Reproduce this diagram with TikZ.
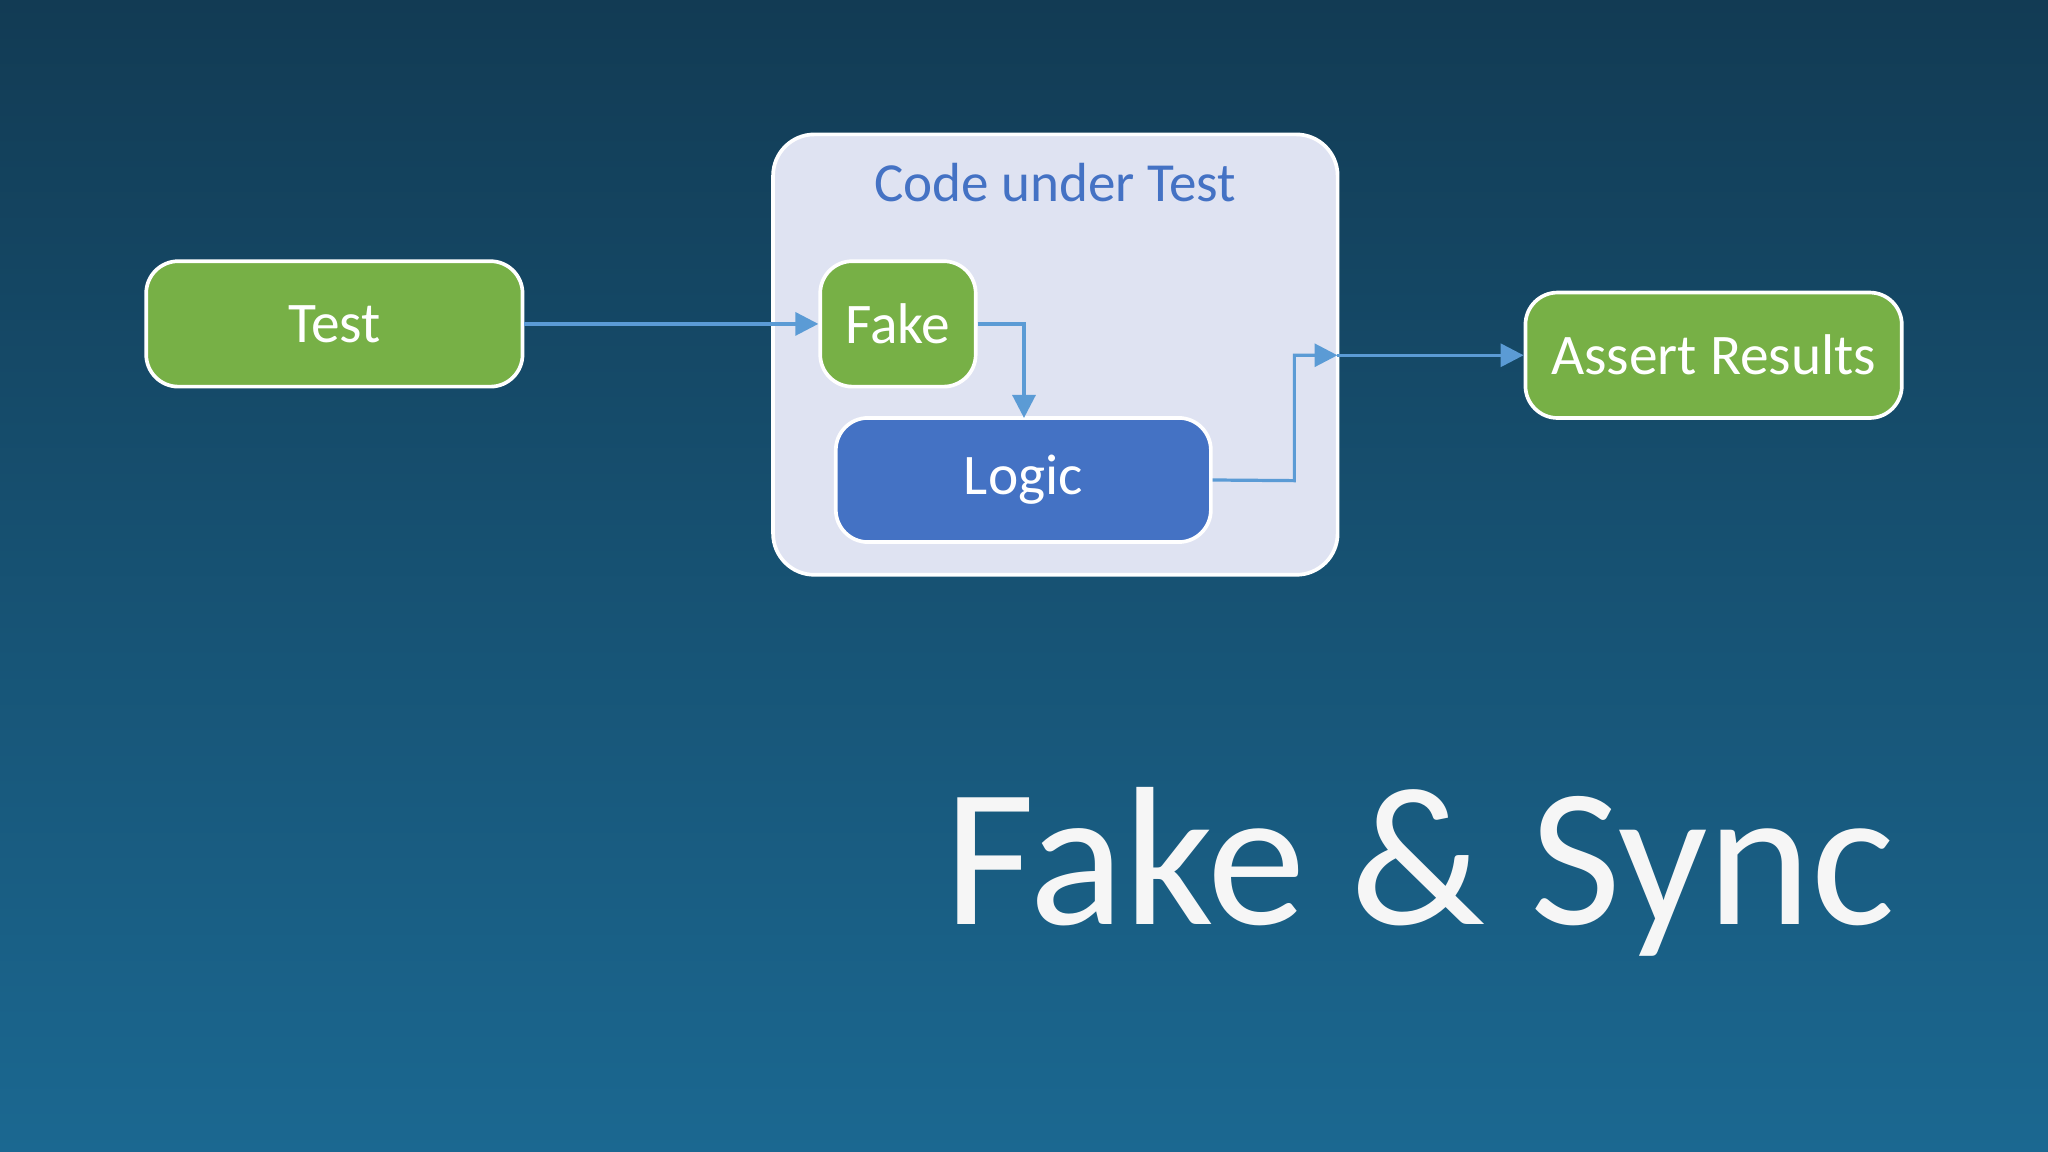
\documentclass[tikz,border=0pt]{standalone}
\usepackage{fontspec}
\setmainfont{Carlito}
\usetikzlibrary{arrows.meta}
\definecolor{bgtop}{HTML}{123B54}
\definecolor{bgbot}{HTML}{1B6891}
\definecolor{grn}{HTML}{77B046}
\definecolor{blu}{HTML}{4472C4}
\definecolor{pale}{HTML}{DFE3F2}
\definecolor{conn}{HTML}{5B9BD5}
\tikzset{
  box/.style={draw=white, line width=0.8pt, rounded corners=7pt, text=white, font=\fontsize{12.5}{15}\selectfont, inner sep=0pt},
  gbox/.style={box, fill=grn},
  bbox/.style={box, fill=blu},
  conn/.style={draw=conn, line width=0.7pt, -{Triangle[length=5pt,width=5pt]}}
}
\begin{document}
\begin{tikzpicture}[x=0.01cm,y=-0.01cm]
\shade[top color=bgtop, bottom color=bgbot] (0,0) rectangle (1568,882);
\useasboundingbox (0,0) rectangle (1568,882);
\node[box, fill=pale, rounded corners=9pt, minimum width=4.32cm, minimum height=3.37cm] (cut) at (808,271.5) {};
\node[text=blu, font=\fontsize{12}{14}\selectfont] (cutl) at (808,140) {Code under Test};
\node[gbox, minimum width=2.88cm, minimum height=0.96cm] (test) at (256,248) {Test};
\node[gbox, minimum width=1.19cm, minimum height=0.96cm] (fake) at (687.5,248) {Fake};
\node[bbox, minimum width=2.87cm, minimum height=0.95cm] (logic) at (783.5,367.5) {\raisebox{-0.35em}{Logic}};
\node[gbox, minimum width=2.88cm, minimum height=0.96cm] (assert) at (1312,272) {Assert Results};
\coordinate (ce) at (1024,272);
\draw[conn] (test.east) -- (fake.west);
\draw[conn] (fake.east) -- (784,248) -- (784,320);
\draw[conn] (logic.east) -- (991,368) -- (991,272) -- (ce);
\draw[conn] (ce) -- (assert.west);
\node[text=white!93!gray, font=\fontsize{43}{48}\selectfont, anchor=base] (title) at (1087,708) {Fake \& Sync};
\end{tikzpicture}
\end{document}
